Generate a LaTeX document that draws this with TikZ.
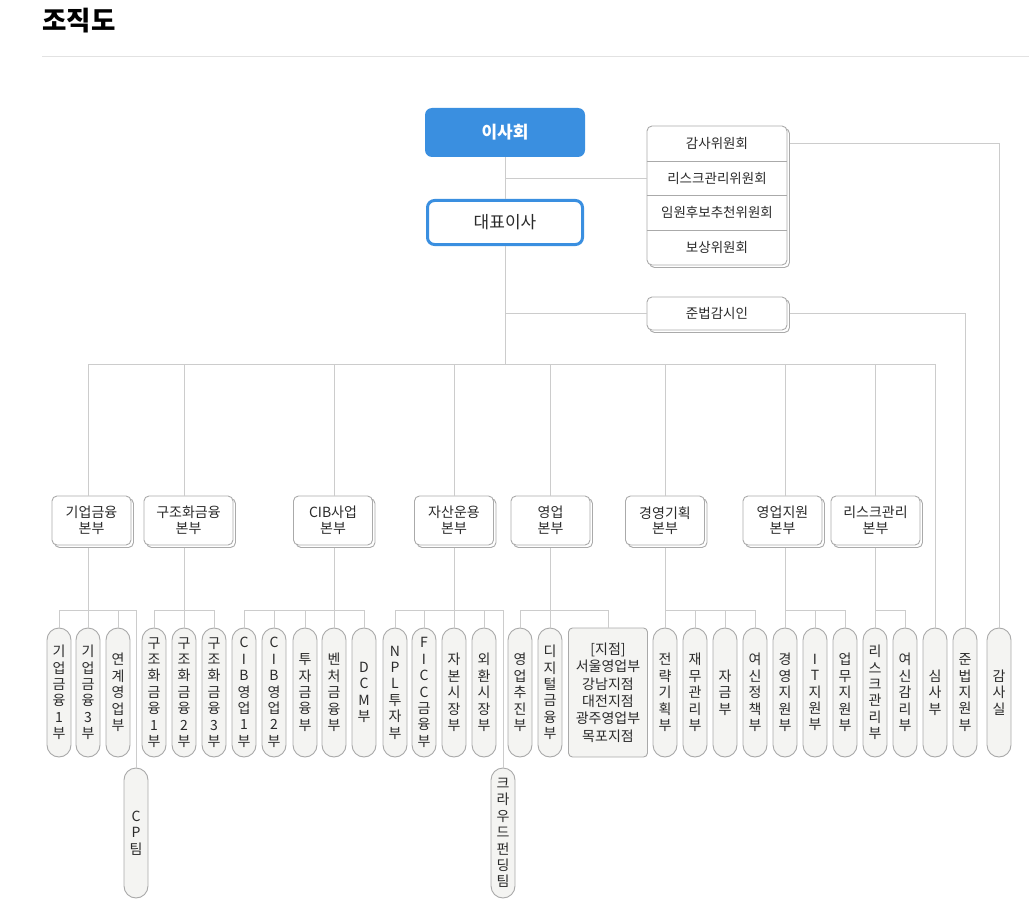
\documentclass[tikz,border=0pt]{standalone}
\usepackage{fontspec}
\newfontfamily\kr{Noto Sans CJK KR}
\usepackage{xcolor}
\usetikzlibrary{positioning,shadows,fit}

\definecolor{linegray}{HTML}{CCCCCC}
\definecolor{rulegray}{HTML}{E2E2E2}
\definecolor{boxgray}{HTML}{AAAAAA}
\definecolor{pillgray}{HTML}{A9A9A9}
\definecolor{pillfill}{HTML}{F4F4F2}
\definecolor{boardblue}{HTML}{3A8FE0}
\definecolor{textgray}{HTML}{2A2A2A}

\tikzset{
  conn/.style={draw=linegray, line width=1pt},
  card/.style={draw=boxgray, fill=white, rounded corners=5pt, line width=0.9pt,
    text=textgray, align=center, inner sep=0pt,
    copy shadow={shadow xshift=2.5pt, shadow yshift=-2.5pt, draw=boxgray, fill=white}},
  hqbox/.style={card, minimum width=#1, minimum height=49pt,
    font=\kr\fontsize{14}{15.5}\selectfont},
  hqbox/.default=79pt,
  comrow/.style={minimum width=140pt, minimum height=34.75pt, inner sep=0pt,
    text=textgray, font=\kr\fontsize{13.5}{15}\selectfont},
  pill/.style={draw=pillgray, fill=pillfill, rounded corners=12pt, line width=0.9pt,
    minimum width=24pt, minimum height=129pt, inner sep=0pt, align=center,
    text=textgray, font=\kr\fontsize{14}{16.4}\selectfont},
  branchbox/.style={pill, rounded corners=4pt, minimum width=79pt,
    font=\kr\fontsize{14}{17.4}\selectfont},
}

\begin{document}
\begin{tikzpicture}[x=1pt, y=-1pt]
  \useasboundingbox (0,0) rectangle (1029,923);

  % title
  \node[anchor=west, font=\kr\bfseries\fontsize{26.5}{30}\selectfont] (title) at (39,21) {조직도};
  \draw[rulegray, line width=1pt] (42,57) -- (1029,57);

  % top
  \node[fill=boardblue, rounded corners=7pt, minimum width=160pt, minimum height=49pt,
        text=white, font=\kr\bfseries\fontsize{17}{19}\selectfont] (board) at (505,132.5) {이사회};
  \node[draw=boardblue, line width=3pt, fill=white, rounded corners=7pt, minimum width=155pt,
        minimum height=44pt, text=textgray, font=\kr\fontsize{17}{19}\selectfont] (ceo) at (505,222.5) {대표이사};

  \node[card, minimum width=140pt, minimum height=139pt] (comm) at (717,195.5) {};
  \node[comrow] (c1) at (717,143.4) {감사위원회};
  \node[comrow] (c2) at (717,178.1) {리스크관리위원회};
  \node[comrow] (c3) at (717,212.9) {임원후보추천위원회};
  \node[comrow] (c4) at (717,247.6) {보상위원회};
  \foreach \r in {c1,c2,c3}
    \draw[boxgray, line width=0.9pt] (\r.south -| comm.west) -- (\r.south -| comm.east);

  \node[card, minimum width=140pt, minimum height=33pt,
        font=\kr\fontsize{13.5}{15}\selectfont] (comp) at (717,313.5) {준법감시인};

  % bonbu
  \node[hqbox] (hq1) at (91.5,520.5) {기업금융\\본부};
  \node[hqbox=89pt] (hq2) at (188.5,520.5) {구조화금융\\본부};
  \node[hqbox] (hq3) at (333,520.5) {CIB사업\\본부};
  \node[hqbox] (hq4) at (454,520.5) {자산운용\\본부};
  \node[hqbox] (hq5) at (550.5,520.5) {영업\\본부};
  \node[hqbox] (hq6) at (665,520.5) {경영기획\\본부};
  \node[hqbox] (hq7) at (782.5,520.5) {영업지원\\본부};
  \node[hqbox=89pt] (hq8) at (875.5,520.5) {리스크관리\\본부};

  % departments
  \foreach \n/\x/\t in {ib1/59/{기\\업\\금\\융\\1\\부}, ib3/88/{기\\업\\금\\융\\3\\부},
      ibl/118/{연\\계\\영\\업\\부}, sf1/154/{구\\조\\화\\금\\융\\1\\부},
      sf2/184/{구\\조\\화\\금\\융\\2\\부}, sf3/214/{구\\조\\화\\금\\융\\3\\부},
      cib1/244/{C\\I\\B\\영\\업\\1\\부}, cib2/274/{C\\I\\B\\영\\업\\2\\부},
      inv/305/{투\\자\\금\\융\\부}, ven/334/{벤\\처\\금\\융\\부}, dcm/364/{D\\C\\M\\부},
      npl/395/{N\\P\\L\\투\\자\\부}, ficc/424/{F\\I\\C\\C\\금\\융\\부},
      cap/454/{자\\본\\시\\장\\부}, fx/484/{외\\환\\시\\장\\부},
      sp/520/{영\\업\\추\\진\\부}, dig/550/{디\\지\\털\\금\\융\\부},
      str/665/{전\\략\\기\\획\\부}, fin/695/{재\\무\\관\\리\\부}, fund/725/{자\\금\\부},
      crp/755/{여\\신\\정\\책\\부}, mgs/785/{경\\영\\지\\원\\부}, it/815/{I\\T\\지\\원\\부},
      ops/845/{업\\무\\지\\원\\부}, risk/875/{리\\스\\크\\관\\리\\부},
      cra/905/{여\\신\\감\\리\\부}, rev/935/{심\\사\\부}, cmp/965/{준\\법\\지\\원\\부},
      aud/999/{감\\사\\실}}
    \node[pill] (\n) at (\x,692.5) {\t};
  \node[branchbox] (br) at (608,692.5) {[지점]\\서울영업부\\강남지점\\대전지점\\광주영업부\\목포지점};
  \node[pill, minimum height=130pt] (cp) at (136,833) {C\\P\\팀};
  \node[pill, minimum height=130pt] (crowd) at (503,833) {크\\라\\우\\드\\펀\\딩\\팀};

  % lines
  \coordinate (bus) at (0,364);
  \coordinate (lvl) at (0,610);
  \draw[conn] (board.south) -- (ceo.north);
  \draw[conn] (board.south |- c2.west) -- (c2.west -| comm.west);
  \draw[conn] (ceo.south) -- (ceo.south |- bus);
  \draw[conn] (ceo.south |- comp.west) -- (comp.west);
  \draw[conn] ([xshift=2.5pt]comm.east |- c1.east) -| (aud.north);
  \draw[conn] ([xshift=2.5pt]comp.east) -| (cmp.north);
  \draw[conn] (ib3 |- bus) -- (rev |- bus) -- (rev.north);
  \foreach \h/\p in {hq1/ib3, hq2/sf2, hq3/ven, hq4/cap, hq5/dig, hq6/str, hq7/mgs, hq8/risk} {
    \draw[conn] (\p |- bus) -- (\p |- \h.north);
    \draw[conn] ([yshift=-2.5pt]\p |- \h.south) -- (\p |- lvl);
  }
  \draw[conn] (ib1.north) |- (cp |- lvl) -- (cp.north);
  \draw[conn] (sf1.north) |- (sf3.north |- lvl) -- (sf3.north);
  \draw[conn] (cib1.north) |- (dcm.north |- lvl) -- (dcm.north);
  \draw[conn] (npl.north) |- (crowd |- lvl) -- (crowd.north);
  \draw[conn] (sp.north) |- (br.north |- lvl) -- (br.north);
  \draw[conn] (str.north) |- (crp.north |- lvl) -- (crp.north);
  \draw[conn] (mgs.north) |- (ops.north |- lvl) -- (ops.north);
  \draw[conn] (risk.north) |- (cra.north |- lvl) -- (cra.north);
  \foreach \p in {ib3,ibl,sf2,cib2,inv,ven,ficc,cap,fx,dig,fin,fund,it}
    \draw[conn] (\p |- lvl) -- (\p.north);
\end{tikzpicture}
\end{document}
